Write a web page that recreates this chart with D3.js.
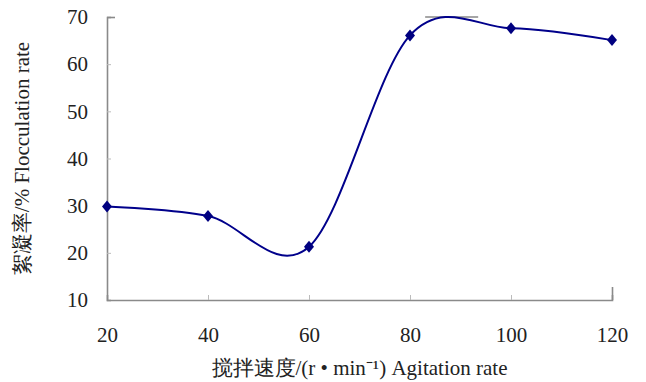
<!DOCTYPE html>
<html>
<head>
<meta charset="utf-8">
<script src="https://cdn.jsdelivr.net/npm/d3@7"></script>
</head>
<body style="margin:0;background:#fff">
<div id="chart"></div>
<script>
/* Data */
const speeds = [20, 40, 60, 80, 100, 120];
const flocRate = [29.8, 27.8, 21.3, 66.1, 67.6, 65.1];
const xTicks = [20, 40, 60, 80, 100, 120];
const yTicks = [10, 20, 30, 40, 50, 60, 70];
const capSpan = [83, 93.5]; // short grey mark along the 70 line
const xTitle = '搅拌速度/(r • min⁻¹) Agitation rate';
const yTitle = '絮凝率/%  Flocculation rate';

const W = 646, H = 382;
const margin = { top: 17, right: 34, bottom: 82, left: 107 };
const FONT = 'Liberation Serif';

const x = d3.scaleLinear().domain([20, 120]).range([margin.left, W - margin.right]);
const y = d3.scaleLinear().domain([10, 70]).range([H - margin.bottom, margin.top]);

const svg = d3.select('#chart').append('svg')
    .attr('width', W)
    .attr('height', H)
    .attr('font-family', FONT);

const axisColor = '#8a8a8a';

/* X axis: ticks pointing up into the plot */
const xAxis = svg.append('g')
    .attr('transform', `translate(0,${y(10)})`)
    .call(d3.axisBottom(x).tickValues(xTicks).tickSize(-5).tickPadding(27));
xAxis.attr('font-family', FONT).attr('font-size', 21);
xAxis.select('.domain').attr('stroke', axisColor).attr('stroke-width', 1.6);
xAxis.selectAll('.tick line').attr('stroke', '#bbb');
xAxis.selectAll('.tick').filter(d => d === 120).select('line')
    .attr('y2', -13).attr('stroke', axisColor).attr('stroke-width', 1.6);
xAxis.selectAll('.tick').filter(d => d === 20).select('line').remove();
xAxis.selectAll('.tick text').attr('font-family', FONT).attr('fill', '#222');

/* Y axis: ticks pointing right */
const yAxis = svg.append('g')
    .attr('transform', `translate(${x(20)},0)`)
    .call(d3.axisLeft(y).tickValues(yTicks).tickSize(-4).tickPadding(19));
yAxis.attr('font-family', FONT).attr('font-size', 21);
yAxis.select('.domain').attr('stroke', axisColor).attr('stroke-width', 1.6);
yAxis.selectAll('.tick line').attr('stroke', '#bbb');
yAxis.selectAll('.tick').filter(d => d === 70).select('line')
    .attr('x2', 8).attr('stroke', axisColor).attr('stroke-width', 1.6);
yAxis.selectAll('.tick').filter(d => d === 10).select('line').remove();
yAxis.selectAll('.tick text').attr('font-family', FONT).attr('fill', '#222');

/* grey cap segment at the top */
svg.append('line')
    .attr('x1', x(capSpan[0])).attr('x2', x(capSpan[1]))
    .attr('y1', y(70)).attr('y2', y(70))
    .attr('stroke', '#888').attr('stroke-width', 1.6);

/* Smoothed series */
const pts = speeds.map((s, i) => [s, flocRate[i]]);
const line = d3.line()
    .x(d => x(d[0]))
    .y(d => y(d[1]))
    .curve(d3.curveCardinal.tension(0));

svg.append('path')
    .datum(pts)
    .attr('fill', 'none')
    .attr('stroke', '#00008b')
    .attr('stroke-width', 2)
    .attr('d', line);

/* Diamond markers */
svg.selectAll('.marker')
    .data(pts)
    .enter().append('path')
    .attr('class', 'marker')
    .attr('transform', d => `translate(${x(d[0])},${y(d[1])})`)
    .attr('d', 'M0,-6L5,0L0,6L-5,0Z')
    .attr('fill', '#000080');

/* Axis titles */
svg.append('text')
    .attr('x', (x(20) + x(120)) / 2)
    .attr('y', 375)
    .attr('text-anchor', 'middle')
    .attr('font-family', FONT)
    .attr('font-size', 21)
    .attr('fill', '#222')
    .text(xTitle);

svg.append('text')
    .attr('transform', `translate(29,${(y(10) + y(70)) / 2}) rotate(-90)`)
    .attr('text-anchor', 'middle')
    .attr('font-family', FONT)
    .attr('font-size', 21)
    .attr('fill', '#222')
    .text(yTitle);
</script>
</body>
</html>
